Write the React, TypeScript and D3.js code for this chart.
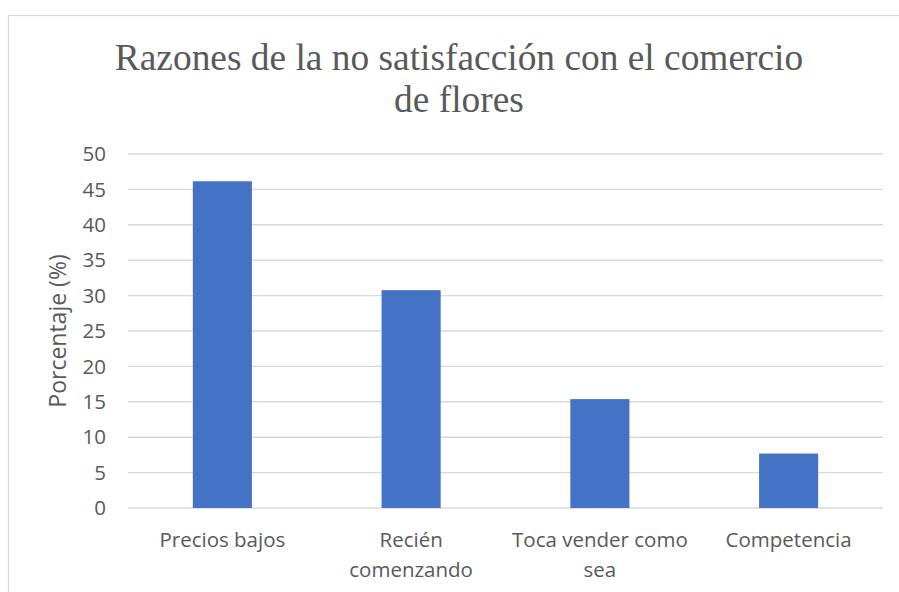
import * as d3 from 'd3';
import React, { useEffect, useRef } from 'react';

const categories = ['Precios bajos', 'Recién comenzando', 'Toca vender como sea', 'Competencia'];
const labelLines = [['Precios bajos'], ['Recién', 'comenzando'], ['Toca vender como', 'sea'], ['Competencia']];
const values = [46.15, 30.77, 15.38, 7.69];
const yTicks = [0, 5, 10, 15, 20, 25, 30, 35, 40, 45, 50];
const titleLines = ['Razones de la no satisfacción con el comercio', 'de flores'];
const yLabel = 'Porcentaje (%)';

const width = 899;
const height = 592;
const margin = { top: 154, right: 16, bottom: 84, left: 128 };
const textColor = '#595959';
const gridColor = '#d9d9d9';
const sans = "'Open Sans', 'Noto Sans', sans-serif";
const serif = "'Liberation Serif', 'DejaVu Serif', serif";

export default function App() {
	const ref = useRef<SVGSVGElement>(null);

	useEffect(() => {
		const svg = d3.select(ref.current);
		svg.selectAll('*').remove();

		const x: any = d3
			.scaleBand()
			.domain(categories)
			.range([margin.left, width - margin.right])
			.paddingInner(0.687)
			.paddingOuter(0.3435);

		const y = d3
			.scaleLinear()
			.domain([0, 50])
			.range([height - margin.bottom, margin.top]);

		svg.append('rect').attr('width', width).attr('height', height).attr('fill', '#fff');

		// chart frame (only top and left edges are visible)
		svg.append('rect')
			.attr('x', 8.5)
			.attr('y', 15.5)
			.attr('width', 1200)
			.attr('height', 1200)
			.attr('fill', 'none')
			.attr('stroke', gridColor)
			.attr('stroke-width', 1.3);

		// title
		svg.append('text')
			.attr('text-anchor', 'middle')
			.style('font-family', serif)
			.style('font-size', '37.4px')
			.attr('fill', textColor)
			.selectAll('tspan')
			.data(titleLines)
			.join('tspan')
			.attr('x', 459)
			.attr('y', (d, i) => 70 + i * 42)
			.text(d => d);

		// gridlines
		svg.append('g')
			.selectAll('line')
			.data(yTicks)
			.join('line')
			.attr('x1', margin.left)
			.attr('x2', width - margin.right)
			.attr('y1', d => y(d))
			.attr('y2', d => y(d))
			.attr('stroke', gridColor)
			.attr('stroke-width', 1.4);

		// y tick labels
		svg.append('g')
			.selectAll('text')
			.data(yTicks)
			.join('text')
			.attr('x', 106)
			.attr('y', d => y(d))
			.attr('dy', '0.35em')
			.attr('text-anchor', 'end')
			.style('font-family', sans)
			.style('font-size', '20.5px')
			.attr('fill', textColor)
			.text(d => d);

		// y axis title
		svg.append('text')
			.attr('transform', `translate(58,${(y(0) + y(50)) / 2}) rotate(-90)`)
			.attr('dy', '0.35em')
			.attr('text-anchor', 'middle')
			.style('font-family', sans)
			.style('font-size', '23px')
			.attr('fill', textColor)
			.text(yLabel);

		// bars
		svg.append('g')
			.selectAll('rect')
			.data(values)
			.join('rect')
			.attr('x', (d, i) => x(categories[i]))
			.attr('y', d => y(d))
			.attr('width', x.bandwidth())
			.attr('height', d => y(0) - y(d))
			.attr('fill', '#4472c4');

		// x labels
		svg.append('g')
			.selectAll('text')
			.data(categories)
			.join('text')
			.attr('text-anchor', 'middle')
			.style('font-family', sans)
			.style('font-size', '20.5px')
			.attr('fill', textColor)
			.each(function (d, i) {
				d3.select(this)
					.selectAll('tspan')
					.data(labelLines[i])
					.join('tspan')
					.attr('x', x(d) + x.bandwidth() / 2)
					.attr('y', (l, j) => 547 + j * 30)
					.text(l => l);
			});
	}, []);

	return (
		<svg
			ref={ref}
			width={width}
			height={height}
			style={{ position: 'absolute', left: 0, top: 0, display: 'block' }}
		/>
	);
}
